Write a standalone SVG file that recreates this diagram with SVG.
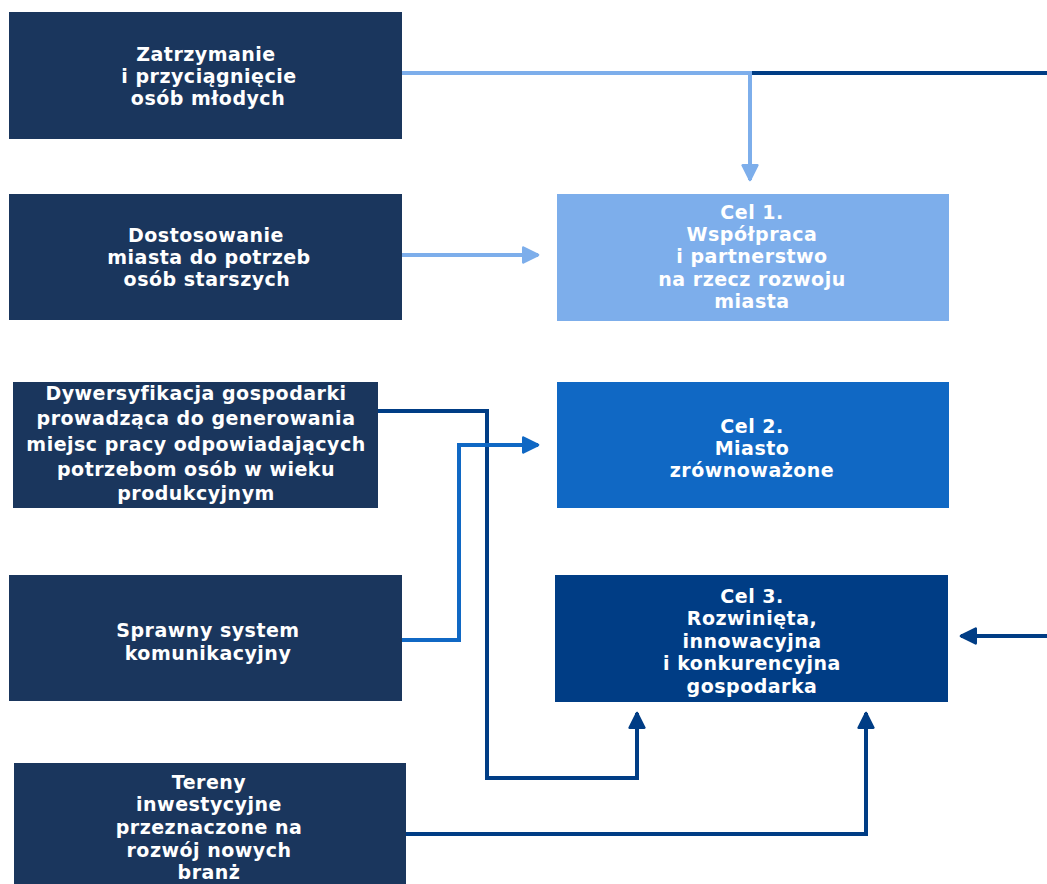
<svg xmlns="http://www.w3.org/2000/svg" width="1047" height="884" viewBox="0 0 1047 884">
<style>
.n{fill:#1a365d}
.c1{fill:#7daeeb}
.c2{fill:#1068c4}
.c3{fill:#003d85}
text{font-family:"DejaVu Sans","Open Sans",sans-serif;font-weight:700;font-size:19px;letter-spacing:0.5px;fill:#ffffff;text-anchor:middle}
.l{fill:none;stroke-width:4;stroke-linejoin:miter}
.lb{stroke:#7daeeb}
.mb{stroke:#1068c4}
.db{stroke:#003d85}
</style>
<defs>
<marker id="aL" viewBox="0 0 10 10" refX="9" refY="5" markerWidth="4.6" markerHeight="4.6" orient="auto" markerUnits="strokeWidth"><path d="M1,1 L9,5 L1,9 Z" fill="#7daeeb" stroke="#7daeeb" stroke-width="1.4" stroke-linejoin="round"/></marker>
<marker id="aM" viewBox="0 0 10 10" refX="9" refY="5" markerWidth="4.6" markerHeight="4.6" orient="auto" markerUnits="strokeWidth"><path d="M1,1 L9,5 L1,9 Z" fill="#1068c4" stroke="#1068c4" stroke-width="1.4" stroke-linejoin="round"/></marker>
<marker id="aD" viewBox="0 0 10 10" refX="9" refY="5" markerWidth="4.6" markerHeight="4.6" orient="auto" markerUnits="strokeWidth"><path d="M1,1 L9,5 L1,9 Z" fill="#003d85" stroke="#003d85" stroke-width="1.4" stroke-linejoin="round"/></marker>
</defs>
<g id="connectors">
<path class="l db" d="M750,73 H1047"/>
<path class="l lb" d="M402,73 H750 V180" marker-end="url(#aL)"/>
<path class="l lb" d="M402,255 H538" marker-end="url(#aL)"/>
<path class="l db" d="M1047,636 H961" marker-end="url(#aD)"/>
<path class="l db" d="M378,411 H487 V778 H637 V713" marker-end="url(#aD)"/>
<path class="l mb" d="M402,640 H459 V445 H538" marker-end="url(#aM)"/>
<path class="l db" d="M406,834 H866 V713" marker-end="url(#aD)"/>
</g>
<g id="n1"><rect class="n" x="9" y="12" width="393" height="127"/>
<text x="206" y="61">Zatrzymanie</text><text x="209" y="83">i przyciągnięcie</text><text x="208" y="105">osób młodych</text></g>
<g id="n2"><rect class="n" x="9" y="194" width="393" height="126"/>
<text x="206" y="242">Dostosowanie</text><text x="209" y="264">miasta do potrzeb</text><text x="207" y="286">osób starszych</text></g>
<g id="n3"><rect class="n" x="13" y="382" width="365" height="126"/>
<text x="196" y="400">Dywersyfikacja gospodarki</text><text x="196" y="425">prowadząca do generowania</text><text x="196" y="451">miejsc pracy odpowiadających</text><text x="196" y="476">potrzebom osób w wieku</text><text x="196" y="500">produkcyjnym</text></g>
<g id="n4"><rect class="n" x="9" y="575" width="393" height="126"/>
<text x="208" y="637">Sprawny system</text><text x="208" y="660">komunikacyjny</text></g>
<g id="n5"><rect class="n" x="14" y="763" width="392" height="125"/>
<text x="209" y="789">Tereny</text><text x="209" y="811">inwestycyjne</text><text x="209" y="834">przeznaczone na</text><text x="209" y="857">rozwój nowych</text><text x="209" y="879">branż</text></g>
<g id="cel1"><rect class="c1" x="557" y="194" width="392" height="127"/>
<text x="752" y="219">Cel 1.</text><text x="752" y="241">Współpraca</text><text x="752" y="263">i partnerstwo</text><text x="752" y="286">na rzecz rozwoju</text><text x="752" y="308">miasta</text></g>
<g id="cel2"><rect class="c2" x="557" y="382" width="392" height="126"/>
<text x="752" y="433">Cel 2.</text><text x="752" y="455">Miasto</text><text x="752" y="477">zrównoważone</text></g>
<g id="cel3"><rect class="c3" x="555" y="575" width="393" height="127"/>
<text x="752" y="603">Cel 3.</text><text x="752" y="625">Rozwinięta,</text><text x="752" y="648">innowacyjna</text><text x="752" y="670">i konkurencyjna</text><text x="752" y="693">gospodarka</text></g>
</svg>
